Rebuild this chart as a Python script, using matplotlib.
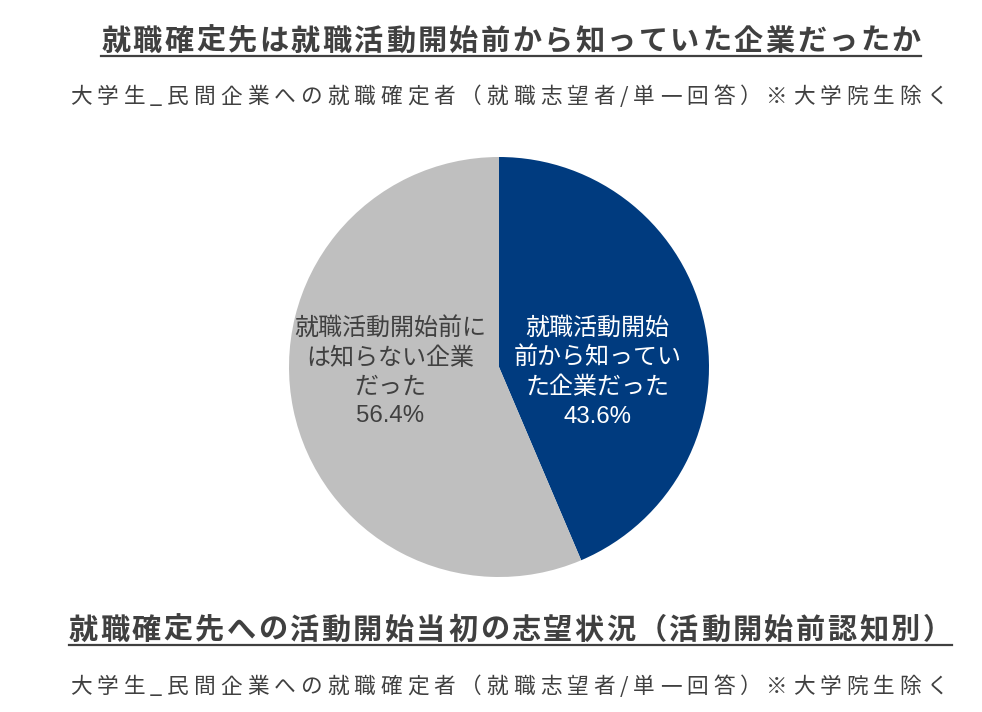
import matplotlib.pyplot as plt
from matplotlib.lines import Line2D

plt.rcParams['font.family'] = ['Noto Sans CJK JP', 'DejaVu Sans']

W, H = 982, 712

title_top = '就職確定先は就職活動開始前から知っていた企業だったか'
subtitle = '大学生_民間企業への就職確定者（就職志望者/単一回答）※大学院生除く'
title_bottom = '就職確定先への活動開始当初の志望状況（活動開始前認知別）'

labels = ['就職活動開始\n前から知ってい\nた企業だった', '就職活動開始前に\nは知らない企業\nだった']
shares = [43.6, 56.4]
colors = ['#003B7F', '#BFBFBF']
label_colors = ['white', '#404040']
text_color = '#404040'


def spaced_text(fig, xc, y, s, size, track, underline=None, **kw):
    # matplotlib has no letter spacing, so place character by character
    r = fig.canvas.get_renderer()
    widths = []
    for ch in s:
        t = fig.text(0, 0, ch, fontsize=size, **kw)
        widths.append(t.get_window_extent(r).width)
        t.remove()
    total = sum(widths) + track * (len(s) - 1)
    x = xc - total / 2
    left = x
    for ch, w in zip(s, widths):
        fig.text(x / W, 1 - y / H, ch, fontsize=size, va='baseline', ha='left', **kw)
        x += w + track
    if underline is not None:
        fig.add_artist(Line2D([left / W, (left + total) / W], [1 - underline / H] * 2,
                              transform=fig.transFigure, color=kw.get('color', 'k'), lw=1.6))


fig = plt.figure(figsize=(W / 100, H / 100), dpi=100)

# Pie
cx, cy, rad = 499, 367, 210
ax = fig.add_axes([(cx - rad) / W, (H - cy - rad) / H, 2 * rad / W, 2 * rad / H])
ax.pie(shares, colors=colors, startangle=90, counterclock=False, radius=1.0,
       wedgeprops=dict(linewidth=0))
ax.set_xlim(-1, 1)
ax.set_ylim(-1, 1)
ax.set_aspect('equal')
ax.axis('off')

label_pos = [(0.47, -0.025), (-0.52, -0.025)]
for lab, val, col, (lx, ly) in zip(labels, shares, label_colors, label_pos):
    ax.text(lx, ly, lab + '\n' + f'{val:.1f}%', ha='center', va='center',
            fontsize=17.3, color=col, linespacing=1.4,
            family=['Liberation Sans', 'Noto Sans CJK JP', 'DejaVu Sans'])

# Titles
spaced_text(fig, 511, 50, title_top, 21, 2.5, underline=56, color=text_color, fontweight='bold')
spaced_text(fig, 509, 103, subtitle, 15.6, 5.0, color=text_color)
spaced_text(fig, 510, 639, title_bottom, 21, 2.5, underline=645, color=text_color, fontweight='bold')
spaced_text(fig, 509, 693, subtitle, 15.6, 5.0, color=text_color)

fig.savefig('out.png', dpi=100)
